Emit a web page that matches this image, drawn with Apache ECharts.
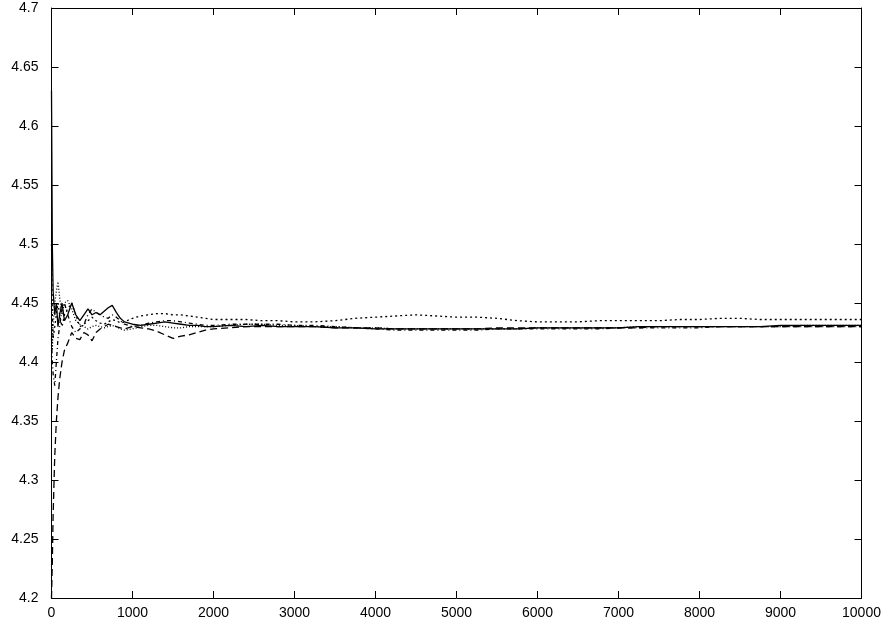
<!DOCTYPE html>
<html>
<head>
<meta charset="utf-8">
<script src="https://cdn.jsdelivr.net/npm/echarts@6/dist/echarts.min.js"></script>
<style>html,body{margin:0;padding:0;background:#fff;}#c{width:892px;height:626px;}</style>
</head>
<body>
<div id="c"></div>
<script>
const xs = [0,10,20,40,60,80,100,130,160,200,250,300,350,400,450,500,550,600,650,700,750,800,850,900,
  1000,1100,1200,1300,1400,1500,1600,1700,1800,1900,2000,2200,2400,2600,2800,3000,
  3250,3500,3750,4000,4250,4500,4750,5000,5250,5500,5750,6000,6250,6500,6750,7000,7250,7500,7750,8000,8250,8500,8750,9000,9250,9500,9750,10000];

const runA = [4.63,4.50,4.46,4.44,4.45,4.43,4.44,4.45,4.435,4.44,4.45,4.44,4.435,4.44,4.445,4.44,4.442,4.44,4.443,4.446,4.448,4.442,4.437,4.434,
  4.432,4.431,4.432,4.433,4.434,4.433,4.432,4.431,4.431,4.430,4.430,4.431,4.430,4.431,4.430,4.430,
  4.430,4.429,4.429,4.428,4.428,4.428,4.428,4.428,4.428,4.428,4.428,4.429,4.429,4.429,4.429,4.429,4.430,4.430,4.430,4.430,4.430,4.430,4.430,4.431,4.431,4.431,4.431,4.431];

const runB = [4.20,4.23,4.27,4.32,4.35,4.37,4.385,4.40,4.41,4.416,4.425,4.42,4.419,4.425,4.423,4.418,4.425,4.428,4.43,4.432,4.431,4.43,4.429,4.428,
  4.43,4.429,4.428,4.426,4.423,4.420,4.422,4.423,4.425,4.427,4.428,4.429,4.430,4.430,4.430,4.430,
  4.430,4.429,4.429,4.429,4.428,4.428,4.428,4.428,4.428,4.429,4.429,4.429,4.429,4.429,4.429,4.429,4.429,4.430,4.430,4.430,4.430,4.430,4.430,4.430,4.430,4.430,4.430,4.430];

const runC = [4.50,4.44,4.42,4.43,4.44,4.45,4.44,4.43,4.44,4.445,4.45,4.44,4.43,4.432,4.435,4.438,4.435,4.433,4.432,4.434,4.436,4.435,4.433,4.434,
  4.437,4.439,4.440,4.441,4.441,4.440,4.440,4.439,4.438,4.437,4.436,4.436,4.436,4.435,4.435,4.434,
  4.434,4.435,4.437,4.438,4.439,4.440,4.439,4.438,4.438,4.437,4.435,4.434,4.434,4.434,4.435,4.435,4.435,4.435,4.436,4.436,4.437,4.437,4.436,4.436,4.436,4.436,4.436,4.436];

const runD = [4.42,4.40,4.39,4.38,4.40,4.42,4.43,4.445,4.45,4.44,4.43,4.425,4.428,4.432,4.44,4.445,4.442,4.44,4.438,4.437,4.44,4.438,4.435,4.432,
  4.430,4.431,4.433,4.434,4.435,4.435,4.434,4.433,4.432,4.431,4.431,4.432,4.432,4.432,4.432,4.431,
  4.431,4.430,4.429,4.428,4.427,4.427,4.427,4.427,4.427,4.428,4.428,4.428,4.428,4.428,4.428,4.429,4.429,4.429,4.429,4.429,4.430,4.430,4.430,4.430,4.430,4.430,4.430,4.430];

const runE = [4.45,4.41,4.43,4.45,4.46,4.468,4.455,4.44,4.45,4.452,4.445,4.435,4.432,4.43,4.428,4.43,4.431,4.43,4.429,4.43,4.431,4.43,4.428,4.427,
  4.428,4.430,4.431,4.431,4.430,4.429,4.429,4.43,4.43,4.43,4.43,4.431,4.432,4.432,4.431,4.431,
  4.430,4.430,4.429,4.429,4.428,4.428,4.428,4.428,4.428,4.428,4.428,4.429,4.429,4.429,4.429,4.429,4.430,4.430,4.430,4.430,4.430,4.430,4.430,4.430,4.431,4.431,4.431,4.431];

const xTicks = [0,1000,2000,3000,4000,5000,6000,7000,8000,9000,10000];
const yTicks = ['4.2','4.25','4.3','4.35','4.4','4.45','4.5','4.55','4.6','4.65','4.7'];

const runs = [runA, runB, runC, runD, runE];
const dashes = ['solid', [7,4], [2,3], [4,3,1,3], [1,2]];

const font = {color:'#000', fontSize:14, fontFamily:'Liberation Sans, Arial, sans-serif'};
const lineStyle = {color:'#000', width:1};
const chart = echarts.init(document.getElementById('c'), null, {renderer:'canvas'});
const xBase = {type:'value', min:0, max:10000, interval:1000, splitLine:{show:false},
  axisLine:{show:true, onZero:false, lineStyle}, axisTick:{show:true, inside:true, length:7, lineStyle}};
const yBase = {type:'value', min:4.2, max:4.7, interval:0.05, splitLine:{show:false},
  axisLine:{show:true, onZero:false, lineStyle}, axisTick:{show:true, inside:true, length:7, lineStyle}};
chart.setOption({
  animation:false,
  backgroundColor:'#fff',
  grid:{left:51.5, right:30.5, top:8, bottom:28, containLabel:false},
  xAxis:[
    Object.assign({}, xBase, {position:'bottom', axisLabel:Object.assign({margin:8, formatter:v=>String(xTicks[Math.round(v/1000)] ?? v)}, font)}),
    Object.assign({}, xBase, {position:'top', axisLabel:{show:false}})
  ],
  yAxis:[
    Object.assign({}, yBase, {position:'left', axisLabel:Object.assign({margin:13, formatter:v=>yTicks[Math.round((v-4.2)/0.05)]}, font)}),
    Object.assign({}, yBase, {position:'right', axisLabel:{show:false}})
  ],
  series: runs.map((r,i)=>({
    type:'line', xAxisIndex:0, yAxisIndex:0, showSymbol:false, symbol:'none',
    data: xs.map((x,j)=>[x, r[j]]),
    lineStyle:{color:'#000', width:1.3, type:dashes[i]},
    clip:true
  }))
});
</script>
</body>
</html>
